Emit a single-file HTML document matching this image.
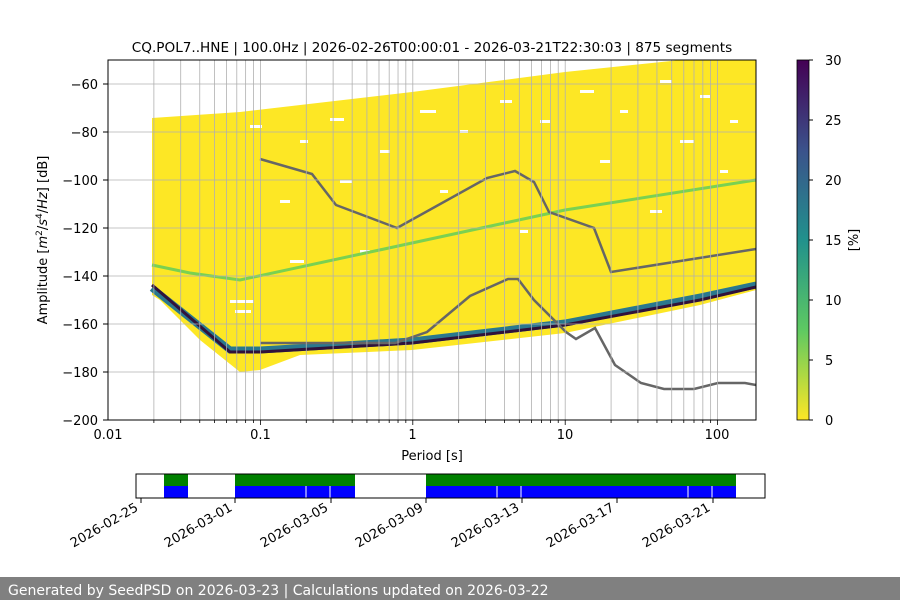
<!DOCTYPE html>
<html><head><meta charset="utf-8"><style>
body{margin:0;width:900px;height:600px;background:#fff;overflow:hidden;font-family:"Liberation Sans","DejaVu Sans",sans-serif}
svg text{font-family:"DejaVu Sans","Liberation Sans",sans-serif}
</style></head><body>
<svg width="900" height="600" xmlns="http://www.w3.org/2000/svg">
<defs>
<linearGradient id="vir" x1="0" y1="1" x2="0" y2="0">
<stop offset="0" stop-color="#fde725"/><stop offset="0.25" stop-color="#5ec962"/><stop offset="0.5" stop-color="#21918c"/><stop offset="0.75" stop-color="#3b528b"/><stop offset="1" stop-color="#440154"/>
</linearGradient>
<clipPath id="c"><rect x="108" y="60" width="648" height="360"/></clipPath>
</defs>
<text x="432" y="52" font-size="13.6" text-anchor="middle">CQ.POL7..HNE | 100.0Hz | 2026-02-26T00:00:01 - 2026-03-21T22:30:03 | 875 segments</text>
<g clip-path="url(#c)">
<polygon fill="#fde725" points="152,118 240,112 412,92 565,72 700,58 756,55 756,290 700,305 565,333 412,350 300,355 260,370 240,372 200,340 160,300 152,295"/>
<g fill="#fff">
<rect x="250" y="125" width="12" height="3"/><rect x="300" y="140" width="8" height="3"/><rect x="330" y="118" width="14" height="3"/><rect x="380" y="150" width="10" height="3"/><rect x="420" y="110" width="16" height="3"/><rect x="460" y="130" width="8" height="3"/><rect x="500" y="100" width="12" height="3"/><rect x="540" y="120" width="10" height="3"/><rect x="580" y="90" width="14" height="3"/><rect x="620" y="110" width="8" height="3"/><rect x="660" y="80" width="12" height="3"/><rect x="700" y="95" width="10" height="3"/><rect x="730" y="120" width="8" height="3"/>
<rect x="280" y="200" width="10" height="3"/><rect x="340" y="180" width="12" height="3"/><rect x="440" y="190" width="8" height="3"/><rect x="600" y="160" width="10" height="3"/><rect x="680" y="140" width="14" height="3"/><rect x="720" y="170" width="8" height="3"/>
<rect x="290" y="260" width="14" height="3"/><rect x="360" y="250" width="10" height="3"/><rect x="520" y="230" width="8" height="3"/><rect x="650" y="210" width="12" height="3"/>
<rect x="230" y="300" width="24" height="3"/><rect x="235" y="310" width="16" height="3"/>
</g>
<polyline fill="none" stroke="#7ad151" stroke-width="3" points="152,265 190,273 240,280 412,243 565,210 756,180"/>
<polyline fill="none" stroke="#2a788e" stroke-width="7" points="152,288 230,350 260,350 412,341 565,323 700,297 756,285"/>
<polyline fill="none" stroke="#30123b" stroke-width="3" points="152,285 230,352 260,352 412,343 565,325 700,300 756,287"/>
<polyline fill="none" stroke="#666" stroke-width="2.5" points="260,159 312,174 336,205 397,228 487,178 515,171 534,182 549,212 594,228 611,272 756,249"/>
<polyline fill="none" stroke="#666" stroke-width="2.5" points="260,343 320,343 395,343 427,332 470,296 508,279 518,279 534,300 566,332 576,339 595,328 615,365 641,383 664,389 694,389 718,383 745,383 756,385"/>
</g>
<g stroke="#b0b0b0" stroke-width="0.8">
<line x1="108" x2="756" y1="84" y2="84"/><line x1="108" x2="756" y1="132" y2="132"/><line x1="108" x2="756" y1="180" y2="180"/><line x1="108" x2="756" y1="228" y2="228"/><line x1="108" x2="756" y1="276" y2="276"/><line x1="108" x2="756" y1="324" y2="324"/><line x1="108" x2="756" y1="372" y2="372"/>
</g>
<g id="vg" stroke="#b0b0b0" stroke-width="0.8"></g>
<rect x="108" y="60" width="648" height="360" fill="none" stroke="#000" stroke-width="1"/>
<g font-size="13" text-anchor="end">
<text x="98" y="89">−60</text><text x="98" y="137">−80</text><text x="98" y="185">−100</text><text x="98" y="233">−120</text><text x="98" y="281">−140</text><text x="98" y="329">−160</text><text x="98" y="377">−180</text><text x="98" y="425">−200</text>
</g>
<g stroke="#000"><line x1="103" x2="108" y1="84" y2="84"/><line x1="103" x2="108" y1="132" y2="132"/><line x1="103" x2="108" y1="180" y2="180"/><line x1="103" x2="108" y1="228" y2="228"/><line x1="103" x2="108" y1="276" y2="276"/><line x1="103" x2="108" y1="324" y2="324"/><line x1="103" x2="108" y1="372" y2="372"/><line x1="103" x2="108" y1="420" y2="420"/></g>
<g font-size="13" text-anchor="middle">
<text x="108" y="439">0.01</text><text x="260.5" y="439">0.1</text><text x="412.5" y="439">1</text><text x="565" y="439">10</text><text x="717" y="439">100</text>
<text x="432" y="460">Period [s]</text>
</g>
<text transform="translate(47,240) rotate(-90)" font-size="13" text-anchor="middle">Amplitude [<tspan font-style="italic">m</tspan><tspan font-size="9" dy="-5">2</tspan><tspan dy="5">/</tspan><tspan font-style="italic">s</tspan><tspan font-size="9" dy="-5">4</tspan><tspan dy="5">/</tspan><tspan font-style="italic">Hz</tspan>] [dB]</text>
<rect x="797" y="60" width="12" height="360" fill="url(#vir)"/>
<rect x="797" y="60" width="12" height="360" fill="none" stroke="#000" stroke-width="0.8"/>
<g font-size="13"><text x="825" y="425">0</text><text x="825" y="365">5</text><text x="825" y="305">10</text><text x="825" y="245">15</text><text x="825" y="185">20</text><text x="825" y="125">25</text><text x="825" y="65">30</text></g>
<g stroke="#000"><line x1="809" x2="813" y1="420" y2="420"/><line x1="809" x2="813" y1="360" y2="360"/><line x1="809" x2="813" y1="300" y2="300"/><line x1="809" x2="813" y1="240" y2="240"/><line x1="809" x2="813" y1="180" y2="180"/><line x1="809" x2="813" y1="120" y2="120"/><line x1="809" x2="813" y1="60" y2="60"/></g>
<text transform="translate(858,240) rotate(-90)" font-size="13" text-anchor="middle">[%]</text>
<rect x="164" y="474" width="24" height="12" fill="#008000"/><rect x="164" y="486" width="24" height="12" fill="#0000ff"/>
<rect x="235" y="474" width="120" height="12" fill="#008000"/><rect x="235" y="486" width="120" height="12" fill="#0000ff"/>
<rect x="426" y="474" width="310" height="12" fill="#008000"/><rect x="426" y="486" width="310" height="12" fill="#0000ff"/>
<g stroke="#fff"><line x1="306" x2="306" y1="486" y2="498"/><line x1="330" x2="330" y1="486" y2="498"/><line x1="497" x2="497" y1="486" y2="498"/><line x1="521" x2="521" y1="486" y2="498"/><line x1="688" x2="688" y1="486" y2="498"/><line x1="712" x2="712" y1="486" y2="498"/></g>
<rect x="136" y="474" width="629" height="24" fill="none" stroke="#000"/>
<g stroke="#000"><line x1="141" x2="141" y1="498" y2="503"/><line x1="235" x2="235" y1="498" y2="503"/><line x1="331" x2="331" y1="498" y2="503"/><line x1="426" x2="426" y1="498" y2="503"/><line x1="522" x2="522" y1="498" y2="503"/><line x1="617" x2="617" y1="498" y2="503"/><line x1="713" x2="713" y1="498" y2="503"/></g>
<g font-size="13" text-anchor="end">
<text transform="translate(139,510) rotate(-30)">2026-02-25</text>
<text transform="translate(233,510) rotate(-30)">2026-03-01</text>
<text transform="translate(329,510) rotate(-30)">2026-03-05</text>
<text transform="translate(424,510) rotate(-30)">2026-03-09</text>
<text transform="translate(520,510) rotate(-30)">2026-03-13</text>
<text transform="translate(615,510) rotate(-30)">2026-03-17</text>
<text transform="translate(711,510) rotate(-30)">2026-03-21</text>
</g>
<rect x="0" y="577" width="900" height="23" fill="#808080"/>
<text x="8" y="595" font-size="14" fill="#fff">Generated by SeedPSD on 2026-03-23 | Calculations updated on 2026-03-22</text>
</svg>
<script>
var g=document.getElementById('vg'),s='';
for(var d=-2;d<=2;d++)for(var m=1;m<=9;m++){var x=108+152.4*(d+2+Math.log10(m));if(x>108&&x<756){s+='<line x1="'+x+'" x2="'+x+'" y1="60" y2="420"/>';s+='<line x1="'+x+'" x2="'+x+'" y1="420" y2="'+(m==1?425:423)+'" stroke="#000"/>';}}
g.innerHTML=s;
</script>
</body></html>
